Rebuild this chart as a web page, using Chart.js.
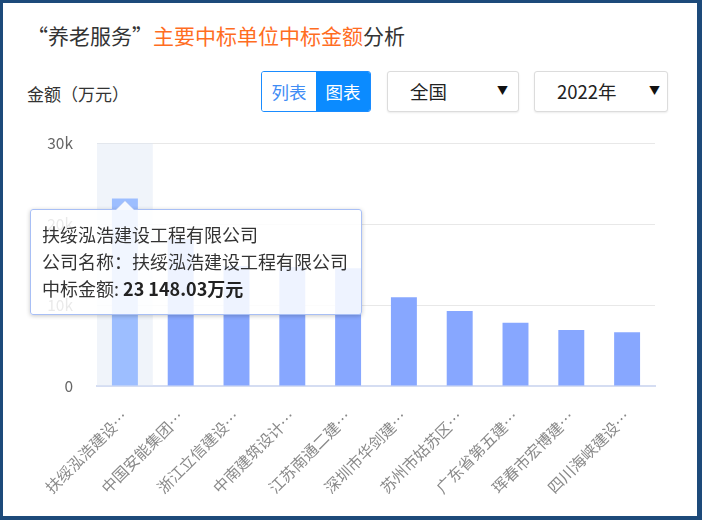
<!DOCTYPE html>
<html><head><meta charset="utf-8">
<script src="https://cdn.jsdelivr.net/npm/chart.js@4.4.1/dist/chart.umd.min.js"></script>
<style>
html,body{margin:0;padding:0;background:#fff;}
body{width:702px;height:520px;position:relative;overflow:hidden;font-family:"Microsoft YaHei","Noto Sans CJK SC",sans-serif;}
#frame{position:absolute;left:0;top:0;width:702px;height:520px;box-sizing:border-box;border:3px solid #1d4a7a;border-right-width:5px;border-bottom-width:4px;pointer-events:none;z-index:5}
#title{position:absolute;left:27px;top:21px;font-size:21px;line-height:28px;color:#333;white-space:nowrap}
#title .hl{color:#ff6d1f}
#unit{position:absolute;left:27px;top:82px;font-size:17px;line-height:24px;color:#333;white-space:nowrap}
#toggle{position:absolute;left:261px;top:71px;width:110px;height:41px;box-sizing:border-box;border:1px solid #1a8cff;border-radius:3px;display:flex;overflow:hidden}
#toggle div{flex:1;display:flex;align-items:center;justify-content:center;font-size:17.5px}
#toggle .off{color:#3f8cf5;background:#fff}
#toggle .on{color:#fff;background:#0b8bff}
.sel{position:absolute;top:71px;height:41px;box-sizing:border-box;border:1px solid #dcdcdc;border-radius:3px;box-shadow:0 1px 2px rgba(0,0,0,0.08);background:#fff}
.sel .t{position:absolute;top:0;line-height:39px;font-size:18.5px;color:#222}
.sel .a{position:absolute;top:0;line-height:37px;font-size:11px;color:#111}
#wrap{position:absolute;left:0;top:125px;width:702px;height:392px}
#tip{position:absolute;display:none;z-index:3;box-sizing:border-box;background:rgba(255,255,255,0.86);border:1px solid #a8bff5;border-radius:3px;box-shadow:0 1px 4px rgba(0,0,0,0.22);padding:11px 13px 12px 11px;white-space:nowrap;font-size:18px;line-height:27px;color:#333}
#tip b{font-weight:bold;color:#222}
#arrow{position:absolute;top:-10px;width:0;height:0;border-left:10px solid transparent;border-right:10px solid transparent;border-bottom:10px solid #a8bff5}
#arrow:after{content:"";position:absolute;left:-9px;top:1px;width:0;height:0;border-left:9px solid transparent;border-right:9px solid transparent;border-bottom:9px solid rgba(255,255,255,0.9)}
</style></head>
<body>
<div id="frame"></div>
<div id="title">“养老服务”<span class="hl">主要中标单位中标金额</span>分析</div>
<div id="unit">金额（万元）</div>
<div id="toggle"><div class="off">列表</div><div class="on">图表</div></div>
<div class="sel" style="left:387px;width:132px"><span class="t" style="left:22px">全国</span><span class="a" style="left:109px">▼</span></div>
<div class="sel" style="left:534px;width:134px"><span class="t" style="left:22px">2022年</span><span class="a" style="left:114px">▼</span></div>
<div id="wrap"><canvas id="c"></canvas></div>
<div id="tip"><div id="arrow"></div><div id="tipBody"></div></div>
<script>
const categories = ['扶绥泓浩建设工程有限公司','中国安能集团','浙江立信建设','中南建筑设计','江苏南通二建','深圳市华剑建','苏州市姑苏区','广东省第五建','珲春市宏博建','四川海峡建设'];
const amounts = [23148.03, 18150, 14800, 14700, 14550, 10950, 9250, 7800, 6900, 6650];
const yTickValues = [0, 10000, 20000, 30000];
const yTickLabels = ['0', '10k', '20k', '30k'];
const seriesName = '中标金额';
const unitText = '万元';

function fmt(v){
  const p = v.toFixed(2).split('.');
  return p[0].replace(/\B(?=(\d{3})+(?!\d))/g, ' ') + '.' + p[1];
}

function externalTooltip(ctx){
  const chart = ctx.chart, tooltip = ctx.tooltip;
  const el = document.getElementById('tip');
  if (tooltip.opacity === 0 || !tooltip.dataPoints || !tooltip.dataPoints.length){ el.style.display='none'; return; }
  const i = tooltip.dataPoints[0].dataIndex;
  const name = categories[i];
  document.getElementById('tipBody').innerHTML =
    '<div>' + name + '</div>' +
    '<div>公司名称：' + name + '</div>' +
    '<div>' + seriesName + ': <b>' + fmt(amounts[i]) + unitText + '</b></div>';
  el.style.display = 'block';
  const wrap = document.getElementById('wrap');
  const cx = wrap.offsetLeft + tooltip.caretX;
  const cy = wrap.offsetTop + tooltip.caretY;
  const w = el.offsetWidth;
  const left = Math.max(30, cx - w/2);
  el.style.left = left + 'px';
  el.style.top = (cy + 10) + 'px';
  document.getElementById('arrow').style.left = (cx - left - 11) + 'px';
}

const hoverBand = {
  id:'hoverBand',
  beforeDatasetsDraw(chart){
    const act = chart.getActiveElements();
    if (!act.length) return;
    const xs = chart.scales.x, a = chart.chartArea, c = chart.ctx;
    const w = xs.width / categories.length;
    const cx = xs.getPixelForValue(act[0].index);
    c.save();
    c.fillStyle = 'rgba(222,230,245,0.45)';
    c.fillRect(cx - w/2, a.top, w, a.bottom - a.top);
    c.restore();
  }
};

const FONT = '"Microsoft YaHei","Noto Sans CJK SC",sans-serif';

const chart = new Chart(document.getElementById('c'), {
  type:'bar',
  data:{
    labels: categories,
    datasets:[{
      label: seriesName,
      data: amounts,
      backgroundColor:'#87a7ff',
      hoverBackgroundColor:'#9dbeff',
      borderWidth:0,
      categoryPercentage:1,
      barPercentage:0.465
    }]
  },
  options:{
    responsive:true, maintainAspectRatio:false, animation:false,
    events:[],
    layout:{padding:{left:0,right:47,top:18,bottom:0}},
    plugins:{
      legend:{display:false},
      tooltip:{enabled:false, external:externalTooltip, position:'average'}
    },
    scales:{
      x:{
        afterFit(s){ s.height = 131; },
        grid:{display:false, drawTicks:false},
        border:{display:true, color:'#d5ddf2', width:2},
        ticks:{
          minRotation:45, maxRotation:45, autoSkip:false, padding:21,
          color:'#8a8a8a', font:{size:15.5, family:FONT},
          callback(v, i){ const s = categories[i]; return s.slice(0,6) + '…'; }
        }
      },
      y:{
        min:0, max:30000,
        afterFit(s){ s.width = 97; },
        afterBuildTicks(s){ s.ticks = yTickValues.map(v => ({value:v})); },
        grid:{color:'#e8e8e8', lineWidth:1, drawTicks:true, tickLength:24, tickColor:'rgba(0,0,0,0)'},
        border:{display:false},
        ticks:{
          padding:0, color:'#666',
          font:{size:15.5, family:FONT},
          callback(v){ const k = yTickValues.indexOf(v); return k >= 0 ? yTickLabels[k] : ''; }
        }
      }
    }
  },
  plugins:[hoverBand]
});

chart.setActiveElements([{datasetIndex:0, index:0}]);
chart.tooltip.setActiveElements([{datasetIndex:0, index:0}], {x:0, y:0});
chart.update();
</script>
</body></html>
